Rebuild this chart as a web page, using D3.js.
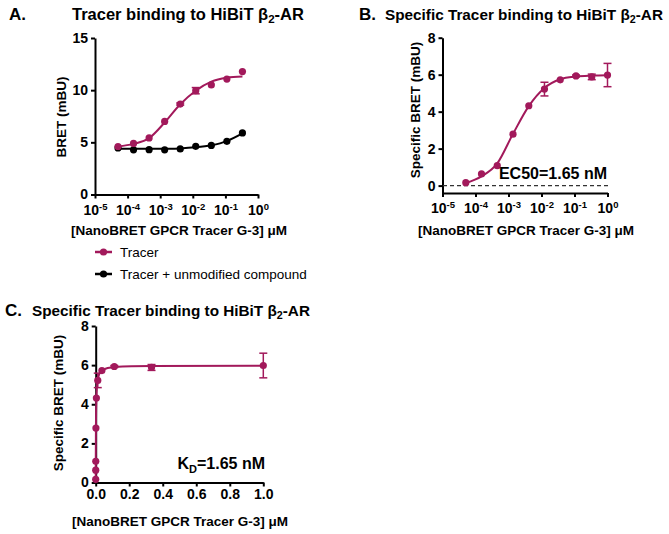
<!DOCTYPE html>
<html>
<head>
<meta charset="utf-8">
<title>Tracer binding to HiBiT b2-AR</title>
<script src="https://d3js.org/d3.v7.min.js"></script>
<style>
  body { margin: 0; background: #fff; }
  svg { display: block; font-family: "Liberation Sans", Arial, sans-serif; }
  .axis path, .axis line { stroke: #000; stroke-width: 2px; }
  .axis text { font-size: 14px; font-weight: bold; fill: #000; }
  .title { font-size: 15.3px; font-weight: bold; }
  .letter { font-size: 17px; font-weight: bold; }
  .alabel { font-size: 13.5px; font-weight: bold; }
  .legend { font-size: 13.5px; }
</style>
</head>
<body>
<svg width="669" height="534"></svg>
<script>
// tracer concentrations (uM), 3-fold dilutions
const concA = [0.0000508, 0.000152, 0.000457, 0.00137, 0.00412, 0.0123, 0.037, 0.111, 0.333];
const concB = [0.0000508, 0.000152, 0.000457, 0.00137, 0.00412, 0.0123, 0.037, 0.111, 0.333, 1.0];

// panel A: total binding
const tracerBRET   = [4.6, 4.9, 5.42, 7.0, 8.67, 9.95, 10.5, 11.06, 11.78];
const tracerErr    = [0, 0, 0, 0, 0.1, 0.3, 0, 0, 0];
const tracerFit    = [4.6, 4.85, 5.4, 6.9, 8.65, 9.95, 10.82, 11.2, 11.32];
const compoundBRET = [4.46, 4.28, 4.3, 4.28, 4.37, 4.62, 4.7, 5.1, 5.9];
const compoundFit  = [4.38, 4.38, 4.38, 4.39, 4.42, 4.52, 4.72, 5.12, 5.85];

// panels B and C: specific binding
const specBRET = [0.16, 0.63, 1.08, 2.78, 4.32, 5.22, 5.72, 5.93, 5.88, 5.98];
const specErr  = [0, 0, 0, 0, 0, 0.37, 0, 0.05, 0.15, 0.63];
const specFit  = [0.14, 0.5, 1.2, 2.8, 4.3, 5.28, 5.75, 5.9, 5.95, 5.97];

const logTicks = [1e-5, 1e-4, 1e-3, 1e-2, 1e-1, 1];
const logExps  = ["-5", "-4", "-3", "-2", "-1", "0"];
const ticksA = [0, 5, 10, 15];
const ticksB = [0, 2, 4, 6, 8];
const ticksCx = [0, 0.2, 0.4, 0.6, 0.8, 1.0];

const magenta = "#a2195b";
const svg = d3.select("svg");

function logAxis(g, x) {
  g.attr("class", "axis")
    .call(d3.axisBottom(x).tickValues(logTicks).tickSize(4).tickSizeOuter(0).tickFormat(""));
  g.selectAll(".tick").each(function(d, i) {
    const t = d3.select(this).append("text")
      .attr("y", 20).attr("text-anchor", "middle").attr("fill", "#000");
    t.append("tspan").text("10");
    t.append("tspan").attr("dy", -5).attr("font-size", 9.5).text(logExps[i]);
  });
}

function drawSeries(g, x, y, xs, ys, fit, err, color) {
  g.append("path")
    .datum(xs.map((c, i) => [c, fit[i]]))
    .attr("fill", "none").attr("stroke", color).attr("stroke-width", 2)
    .attr("d", d3.line().x(d => x(d[0])).y(d => y(d[1])).curve(d3.curveMonotoneX));
  const pts = xs.map((c, i) => ({c: c, v: ys[i], e: err ? err[i] : 0}));
  const eb = g.selectAll(".eb").data(pts.filter(d => d.e > 0)).enter().append("g")
    .attr("stroke", color).attr("stroke-width", 1.5);
  eb.append("line").attr("x1", d => x(d.c)).attr("x2", d => x(d.c))
    .attr("y1", d => y(d.v - d.e)).attr("y2", d => y(d.v + d.e));
  eb.append("line").attr("x1", d => x(d.c) - 4).attr("x2", d => x(d.c) + 4)
    .attr("y1", d => y(d.v + d.e)).attr("y2", d => y(d.v + d.e));
  eb.append("line").attr("x1", d => x(d.c) - 4).attr("x2", d => x(d.c) + 4)
    .attr("y1", d => y(d.v - d.e)).attr("y2", d => y(d.v - d.e));
  g.selectAll(".pt").data(pts).enter().append("circle")
    .attr("cx", d => x(d.c)).attr("cy", d => y(d.v)).attr("r", 3.6).attr("fill", color);
}

function title(x, y, letter, lx, text, size) {
  svg.append("text").attr("class", "letter").attr("x", x).attr("y", y).text(letter);
  const t = svg.append("text").attr("class", "title").attr("x", lx).attr("y", y);
  if (size) t.style("font-size", size + "px");
  t.append("tspan").text(text);
  t.append("tspan").attr("dy", 3).attr("font-size", "0.7em").text("2");
  t.append("tspan").attr("dy", -3).text("-AR");
}

function xLabel(cx, y) {
  svg.append("text").attr("class", "alabel").attr("x", cx).attr("y", y)
    .attr("text-anchor", "middle").text("[NanoBRET GPCR Tracer G-3] \u03bcM");
}

function yLabel(x, cy, text) {
  svg.append("text").attr("class", "alabel")
    .attr("transform", `translate(${x},${cy}) rotate(-90)`)
    .attr("text-anchor", "middle").text(text);
}

// ---- Panel A ----
const xA = d3.scaleLog().domain([1e-5, 1]).range([95, 258]);
const yA = d3.scaleLinear().domain([0, 15]).range([194.5, 38]);
svg.append("g").attr("class", "axis").attr("transform", "translate(95,0)")
  .call(d3.axisLeft(yA).tickValues(ticksA).tickSize(4).tickSizeOuter(0));
logAxis(svg.append("g").attr("transform", "translate(0,194.5)"), xA);
const gA = svg.append("g");
drawSeries(gA, xA, yA, concA, compoundBRET, compoundFit, null, "#000");
drawSeries(gA, xA, yA, concA, tracerBRET, tracerFit, tracerErr, magenta);
title(9, 20, "A.", 72, "Tracer binding to HiBiT \u03b2", 16.5);
xLabel(179, 235);
yLabel(66, 117, "BRET (mBU)");

// legend
const legend = [["Tracer", magenta], ["Tracer + unmodified compound", "#000"]];
legend.forEach((l, i) => {
  const ly = 252 + i * 22;
  svg.append("line").attr("x1", 95).attr("x2", 112).attr("y1", ly).attr("y2", ly)
    .attr("stroke", l[1]).attr("stroke-width", 2.5);
  svg.append("circle").attr("cx", 103.5).attr("cy", ly).attr("r", 3.6).attr("fill", l[1]);
  svg.append("text").attr("class", "legend").attr("x", 120).attr("y", ly + 5).text(l[0]);
});

// ---- Panel B ----
const xB = d3.scaleLog().domain([1e-5, 1]).range([442.5, 607.5]);
const yB = d3.scaleLinear().domain([-0.4, 8]).range([193, 37.7]);
svg.append("g").attr("class", "axis").attr("transform", "translate(442.5,0)")
  .call(d3.axisLeft(yB).tickValues(ticksB).tickSize(4).tickSizeOuter(0));
logAxis(svg.append("g").attr("transform", "translate(0,193)"), xB);
svg.append("line").attr("x1", 443).attr("x2", 608).attr("y1", yB(0)).attr("y2", yB(0))
  .attr("stroke", "#333").attr("stroke-width", 1.3).attr("stroke-dasharray", "4,3");
drawSeries(svg.append("g"), xB, yB, concB, specBRET, specFit, specErr, magenta);
title(359, 20, "B.", 385, "Specific Tracer binding to HiBiT \u03b2");
xLabel(526, 235);
yLabel(420, 110, "Specific BRET (mBU)");
svg.append("text").attr("x", 607).attr("y", 179).attr("text-anchor", "end")
  .attr("font-size", 16).attr("font-weight", "bold").text("EC50=1.65 nM");

// ---- Panel C ----
const xC = d3.scaleLinear().domain([0, 1]).range([95.7, 263.3]);
const yC = d3.scaleLinear().domain([0, 8]).range([482.5, 326]);
svg.append("g").attr("class", "axis").attr("transform", "translate(95.7,0)")
  .call(d3.axisLeft(yC).tickValues(ticksB).tickSize(4).tickSizeOuter(0));
svg.append("g").attr("class", "axis").attr("transform", "translate(0,482.5)")
  .call(d3.axisBottom(xC).tickValues(ticksCx).tickSize(4).tickSizeOuter(0).tickFormat(d3.format(".1f")));
drawSeries(svg.append("g"), xC, yC, concB, specBRET, specFit, specErr, magenta);
title(5, 316, "C.", 32, "Specific Tracer binding to HiBiT \u03b2");
xLabel(180, 526);
yLabel(63, 403, "Specific BRET (mBU)");
const kd = svg.append("text").attr("x", 265).attr("y", 469).attr("text-anchor", "end")
  .attr("font-size", 16).attr("font-weight", "bold");
kd.append("tspan").text("K");
kd.append("tspan").attr("dy", 4).attr("font-size", 11).text("D");
kd.append("tspan").attr("dy", -4).text("=1.65 nM");
</script>
</body>
</html>
